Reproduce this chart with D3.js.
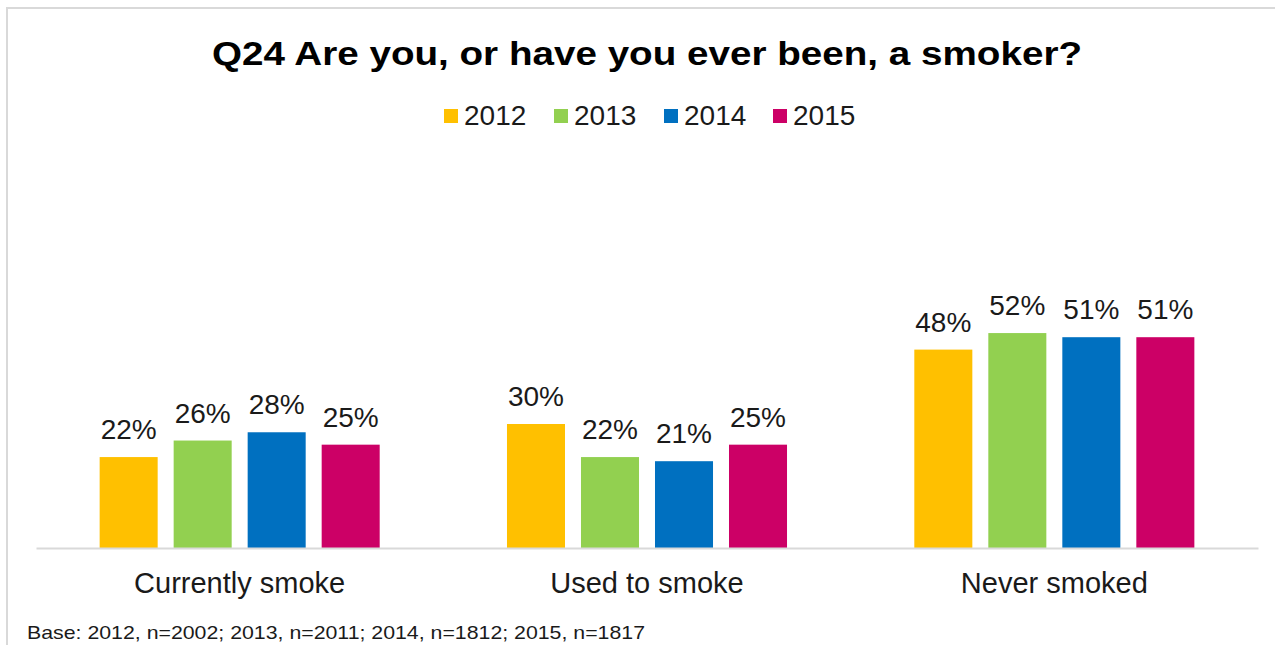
<!DOCTYPE html>
<html>
<head>
<meta charset="utf-8">
<script src="https://cdn.jsdelivr.net/npm/d3@7"></script>
<style>
  html, body { margin: 0; padding: 0; background: #fff; }
  svg { display: block; font-family: "Liberation Sans", Arial, sans-serif; }
</style>
</head>
<body>
<svg id="chart" width="1275" height="645"></svg>
<script>
const categories = ["Currently smoke", "Used to smoke", "Never smoked"];
const seriesNames = ["2012", "2013", "2014", "2015"];
const values2012 = [22, 30, 48];
const values2013 = [26, 22, 52];
const values2014 = [28, 21, 51];
const values2015 = [25, 25, 51];
const colors = ["#FFC000", "#92D050", "#0070C0", "#CC0066"];
const titleText = "Q24 Are you, or have you ever been, a smoker?";
const baseNote = "Base: 2012, n=2002; 2013, n=2011; 2014, n=1812; 2015, n=1817";

const seriesValues = [values2012, values2013, values2014, values2015];

const svg = d3.select("#chart");

// frame
svg.append("line").attr("x1", 6).attr("x2", 1275).attr("y1", 8).attr("y2", 8)
  .attr("stroke", "#d9d9d9").attr("stroke-width", 2);
svg.append("line").attr("x1", 7).attr("x2", 7).attr("y1", 8).attr("y2", 645)
  .attr("stroke", "#d9d9d9").attr("stroke-width", 2);

const x0 = d3.scaleBand().domain(categories).range([36, 1258]).paddingInner(0).paddingOuter(0);
const x1 = d3.scaleBand().domain(seriesNames).range([0, x0.bandwidth()])
  .paddingInner(0.216).paddingOuter(0.86);
const y = d3.scaleLinear().domain([0, 60]).range([548, 300]);

// title
svg.append("text").attr("x", 212).attr("y", 65)
  .attr("font-size", 33).attr("font-weight", "bold").attr("fill", "#000")
  .attr("textLength", 870).attr("lengthAdjust", "spacingAndGlyphs")
  .text(titleText);

// legend
const legend = svg.append("g");
const legendX = d3.scaleOrdinal().domain(seriesNames).range([444, 554, 664, 773]);
seriesNames.forEach((s, i) => {
  const g = legend.append("g").attr("transform", `translate(${legendX(s)},0)`);
  g.append("rect").attr("x", 0).attr("y", 109).attr("width", 14).attr("height", 14).attr("fill", colors[i]);
  g.append("text").attr("x", 20).attr("y", 125).attr("font-size", 28).attr("fill", "#1a1a1a").text(s);
});

// bars
const groups = svg.append("g").selectAll("g").data(categories).join("g")
  .attr("transform", d => `translate(${x0(d)},0)`);

groups.each(function(cat, ci) {
  const g = d3.select(this);
  const data = seriesNames.map((s, si) => ({ s, si, v: seriesValues[si][ci] }));
  g.selectAll("rect").data(data).join("rect")
    .attr("x", d => x1(d.s))
    .attr("y", d => y(d.v))
    .attr("width", x1.bandwidth())
    .attr("height", d => y(0) - y(d.v))
    .attr("fill", d => colors[d.si]);
  g.selectAll("text.lbl").data(data).join("text").attr("class", "lbl")
    .attr("x", d => x1(d.s) + x1.bandwidth() / 2)
    .attr("y", d => y(d.v) - 18)
    .attr("text-anchor", "middle")
    .attr("font-size", 28)
    .attr("fill", "#1a1a1a")
    .text(d => d.v + "%");
});

// baseline axis
const xAxis = d3.axisBottom(x0).tickSize(0).tickPadding(0);
const axisG = svg.append("g").attr("transform", `translate(0,${y(0)})`).call(xAxis);
axisG.select(".domain").attr("stroke", "#d9d9d9").attr("stroke-width", 2);
axisG.selectAll(".tick text")
  .attr("dy", 0).attr("y", 45)
  .attr("font-size", 29).attr("fill", "#1a1a1a")
  .attr("font-family", "Liberation Sans, Arial, sans-serif");

// base note
svg.append("text").attr("x", 27).attr("y", 639).attr("font-size", 19).attr("fill", "#1a1a1a")
  .attr("textLength", 618).attr("lengthAdjust", "spacingAndGlyphs")
  .text(baseNote);
</script>
</body>
</html>
